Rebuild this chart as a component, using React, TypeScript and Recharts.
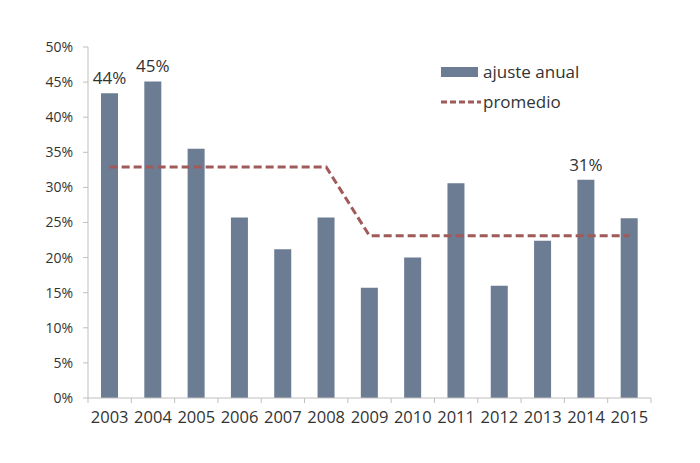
import {
  ComposedChart,
  Bar,
  Line,
  XAxis,
  YAxis,
  LabelList,
} from 'recharts';

const years = ['2003', '2004', '2005', '2006', '2007', '2008', '2009', '2010', '2011', '2012', '2013', '2014', '2015'];
const ajusteAnual = [0.434, 0.451, 0.355, 0.257, 0.212, 0.257, 0.157, 0.2, 0.306, 0.16, 0.224, 0.311, 0.256];
const promedio = [0.329, 0.329, 0.329, 0.329, 0.329, 0.329, 0.231, 0.231, 0.231, 0.231, 0.231, 0.231, 0.231];
const shownLabels = ['44%', '45%', '', '', '', '', '', '', '', '', '', '31%', ''];
const yTicks = [0, 0.05, 0.1, 0.15, 0.2, 0.25, 0.3, 0.35, 0.4, 0.45, 0.5];

const data = years.map((year, i) => ({
  year,
  ajuste: ajusteAnual[i],
  promedio: promedio[i],
  label: shownLabels[i],
}));

const BAR = '#6b7c93';
const LINE = '#a05a5a';
const AXIS = '#bfbfbf';
const TEXT = '#333333';
const FONT = '"Open Sans", sans-serif';

// year label plus tick marks on the category edges (Excel style)
const YearTick = (props: any) => {
  const { x, y, payload, index, visibleTicksCount } = props;
  const half = payload.offset || 0;
  const last = index === visibleTicksCount - 1;
  return (
    <g>
      <line x1={x - half} y1={y} x2={x - half} y2={y + 5} stroke={AXIS} />
      {last && <line x1={x + half} y1={y} x2={x + half} y2={y + 5} stroke={AXIS} />}
      <text
        x={x}
        y={y + 19}
        dy="0.36em"
        textAnchor="middle"
        fill={TEXT}
        fontSize={16.5}
        fontFamily={FONT}
      >
        {payload.value}
      </text>
    </g>
  );
};

// legend drawn as an overlay so it takes no room from the plot
const LegendBox = () => (
  <div
    style={{
      position: 'absolute',
      left: 441,
      top: 57,
      fontFamily: FONT,
      fontSize: 17,
      color: TEXT,
      lineHeight: '30px',
    }}
  >
    <div style={{ display: 'flex', alignItems: 'center' }}>
      <span style={{ display: 'inline-block', width: 37, height: 10, background: BAR, marginRight: 5 }} />
      ajuste anual
    </div>
    <div style={{ display: 'flex', alignItems: 'center' }}>
      <svg width={40} height={6} style={{ marginRight: 2 }}>
        <line x1={0} y1={3} x2={40} y2={3} stroke={LINE} strokeWidth={3} strokeDasharray="6 3" />
      </svg>
      promedio
    </div>
  </div>
);

export default function App() {
  return (
    <div style={{ position: 'absolute', left: 0, top: 0, width: 700, height: 463, background: '#fff' }}>
      <ComposedChart
        width={700}
        height={463}
        data={data}
        margin={{ top: 47, right: 49, bottom: 35, left: 28 }}
      >
        <XAxis
          dataKey="year"
          axisLine={{ stroke: AXIS }}
          tickLine={false}
          tickSize={0}
          tickMargin={0}
          height={30}
          interval={0}
          tick={<YearTick />}
        />
        <YAxis
          domain={[0, 0.5]}
          ticks={yTicks}
          width={60}
          axisLine={{ stroke: AXIS }}
          tickLine={{ stroke: AXIS }}
          tickSize={5}
          tickMargin={10}
          tickFormatter={(v: number) => `${Math.round(v * 100)}%`}
          tick={{ fill: TEXT, fontSize: 14, fontFamily: FONT }}
        />
        <Bar dataKey="ajuste" name="ajuste anual" fill={BAR} barSize={17} isAnimationActive={false}>
          <LabelList
            dataKey="label"
            position="top"
            offset={9}
            style={{ fill: TEXT, fontSize: 17, fontFamily: FONT }}
          />
        </Bar>
        <Line
          dataKey="promedio"
          name="promedio"
          type="linear"
          stroke={LINE}
          strokeWidth={3}
          strokeDasharray="8 4"
          dot={false}
          activeDot={false}
          isAnimationActive={false}
        />
      </ComposedChart>
      <LegendBox />
    </div>
  );
}
